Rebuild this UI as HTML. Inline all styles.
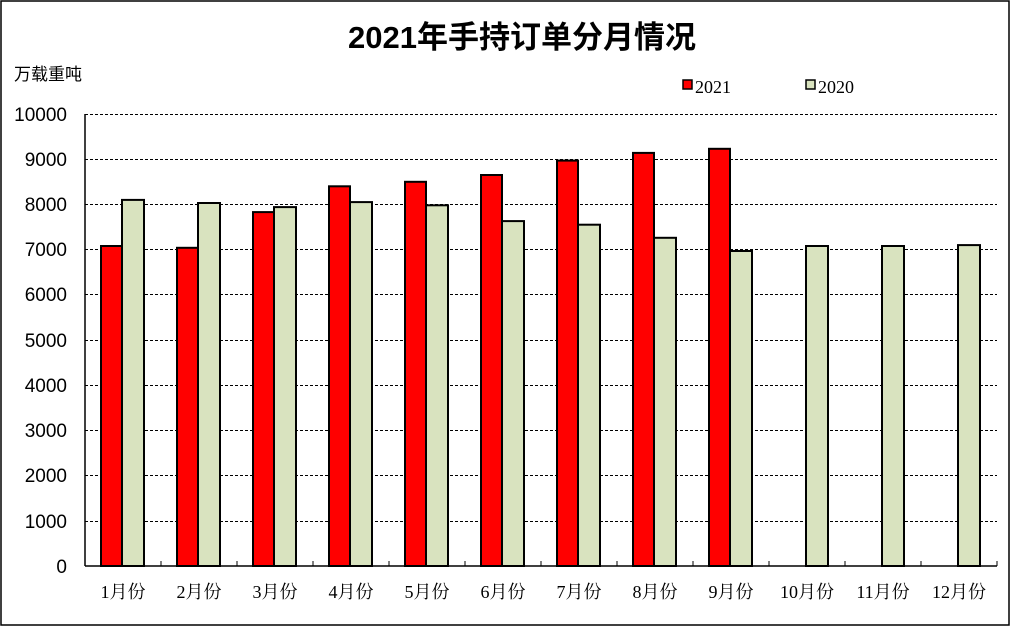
<!DOCTYPE html><html><head><meta charset="utf-8"><style>body{margin:0;background:#fff}svg{display:block}</style></head><body>
<svg width="1014" height="627" xmlns="http://www.w3.org/2000/svg" font-family="Liberation Sans, Noto Sans CJK SC, sans-serif">
<rect x="1" y="1" width="1008" height="624" fill="#fff" stroke="#000" stroke-width="1.5"/>
<text x="522" y="48" font-size="31" font-weight="bold" text-anchor="middle">2021年手持订单分月情况</text>
<text x="14" y="80" font-size="17">万载重吨</text>
<rect x="683" y="80" width="9" height="9" fill="#f00" stroke="#000" stroke-width="1.5"/>
<text x="695" y="93" font-size="18" font-family="Liberation Serif, serif">2021</text>
<rect x="806" y="80" width="9" height="9" fill="#d9e3bf" stroke="#000" stroke-width="1.5"/>
<text x="818" y="93" font-size="18" font-family="Liberation Serif, serif">2020</text>
<g stroke="#000" stroke-width="1" stroke-dasharray="3,2">
<line x1="85" x2="997" y1="114.5" y2="114.5"/><line x1="85" x2="997" y1="159.5" y2="159.5"/><line x1="85" x2="997" y1="204.5" y2="204.5"/><line x1="85" x2="997" y1="249.5" y2="249.5"/><line x1="85" x2="997" y1="294.5" y2="294.5"/><line x1="85" x2="997" y1="340.5" y2="340.5"/><line x1="85" x2="997" y1="385.5" y2="385.5"/><line x1="85" x2="997" y1="430.5" y2="430.5"/><line x1="85" x2="997" y1="475.5" y2="475.5"/><line x1="85" x2="997" y1="521.5" y2="521.5"/>
</g>
<g font-size="19" text-anchor="end">
<text x="67" y="121">10000</text><text x="67" y="166">9000</text><text x="67" y="211">8000</text><text x="67" y="256">7000</text><text x="67" y="301">6000</text><text x="67" y="347">5000</text><text x="67" y="392">4000</text><text x="67" y="437">3000</text><text x="67" y="482">2000</text><text x="67" y="528">1000</text><text x="67" y="573">0</text>
</g>
<g stroke="#000" stroke-width="2" fill="#f00">
<rect x="101" y="246" width="21" height="320"/>
<rect x="177" y="247.8" width="21" height="318.2"/>
<rect x="253" y="212.1" width="21" height="353.9"/>
<rect x="329" y="186.3" width="21" height="379.7"/>
<rect x="405" y="181.8" width="21" height="384.2"/>
<rect x="481" y="175" width="21" height="391"/>
<rect x="557" y="160.6" width="21" height="405.4"/>
<rect x="633" y="152.9" width="21" height="413.1"/>
<rect x="709" y="148.8" width="21" height="417.2"/>
</g>
<g stroke="#000" stroke-width="2" fill="#d9e3bf">
<rect x="122" y="199.9" width="22" height="366.1"/>
<rect x="198" y="203" width="22" height="363"/>
<rect x="274" y="207.1" width="22" height="358.9"/>
<rect x="350" y="202.1" width="22" height="363.9"/>
<rect x="426" y="205.3" width="22" height="360.7"/>
<rect x="502" y="221.1" width="22" height="344.9"/>
<rect x="578" y="224.7" width="22" height="341.3"/>
<rect x="654" y="237.8" width="22" height="328.2"/>
<rect x="730" y="251" width="22" height="315"/>
<rect x="806" y="246" width="22" height="320"/>
<rect x="882" y="246" width="22" height="320"/>
<rect x="958" y="245.1" width="22" height="320.9"/>
</g>
<g stroke="#000" stroke-width="1">
<line x1="161" x2="161" y1="561" y2="566"/><line x1="237" x2="237" y1="561" y2="566"/><line x1="313" x2="313" y1="561" y2="566"/><line x1="389" x2="389" y1="561" y2="566"/><line x1="465" x2="465" y1="561" y2="566"/><line x1="541" x2="541" y1="561" y2="566"/><line x1="617" x2="617" y1="561" y2="566"/><line x1="693" x2="693" y1="561" y2="566"/><line x1="769" x2="769" y1="561" y2="566"/><line x1="845" x2="845" y1="561" y2="566"/><line x1="921" x2="921" y1="561" y2="566"/><line x1="997" x2="997" y1="561" y2="566"/>
</g>
<line x1="85" y1="114" x2="85" y2="566" stroke="#000" stroke-width="1.5"/>
<line x1="85" y1="566" x2="997" y2="566" stroke="#000" stroke-width="1.5"/>
<g font-size="18" text-anchor="middle" font-family="Liberation Serif, Noto Serif CJK SC, serif">
<text x="123" y="598">1月份</text><text x="199" y="598">2月份</text><text x="275" y="598">3月份</text><text x="351" y="598">4月份</text><text x="427" y="598">5月份</text><text x="503" y="598">6月份</text><text x="579" y="598">7月份</text><text x="655" y="598">8月份</text><text x="731" y="598">9月份</text><text x="807" y="598">10月份</text><text x="883" y="598">11月份</text><text x="959" y="598">12月份</text>
</g>
</svg></body></html>
